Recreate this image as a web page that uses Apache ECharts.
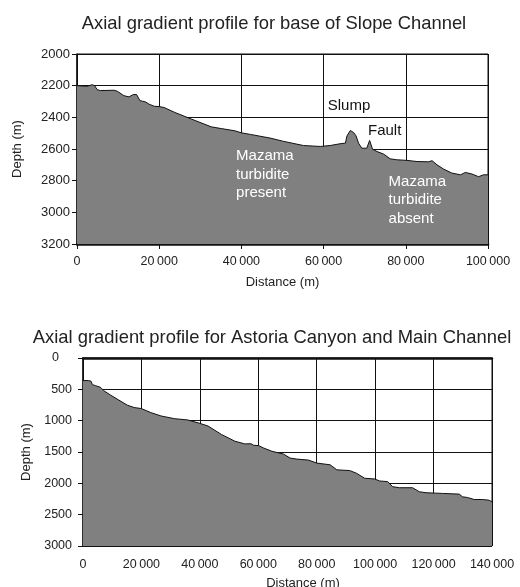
<!DOCTYPE html>
<html><head><meta charset="utf-8">
<script src="https://cdn.jsdelivr.net/npm/echarts@6/dist/echarts.min.js"></script>
<style>html,body{margin:0;padding:0;background:#fff}#c{width:520px;height:587px}</style>
</head><body><div id="c"></div>
<script>
// Chart 1: base of Slope Channel
var slopeDistance = [0,2450,3700,4300,4900,5700,9000,9800,11400,12650,13700,14100,14500,14900,15300,15900,16700,17550,18800,20000,21200,23700,27750,32650,35100,38400,40000,42200,47000,50300,55100,59200,61600,64000,65300,65700,66500,67300,67900,68500,69300,70500,71200,71600,71900,73000,74600,76200,77800,80300,82700,85500,86400,87600,89200,91200,93300,94500,96100,97700,98900,100000];
var slopeDepth = [2200,2204,2194,2200,2225,2231,2229,2235,2263,2271,2256,2246,2256,2244,2294,2298,2303,2317,2330,2332,2338,2368,2410,2460,2471,2485,2498,2508,2531,2552,2578,2584,2578,2567,2563,2517,2483,2496,2517,2563,2595,2595,2546,2538,2601,2616,2632,2662,2668,2672,2679,2681,2674,2700,2727,2752,2763,2748,2758,2775,2763,2763];
// Chart 2: Astoria Canyon and Main Channel
var astoriaDistance = [0,1950,2760,3200,4250,5980,7100,9400,11700,15200,17500,19800,20500,23200,26700,31300,35900,40000,42800,47400,52000,55400,57500,58400,60100,61800,64700,68600,70900,73200,77200,80000,84600,86900,91300,93600,96400,99800,101500,104300,106000,108300,112800,115100,117400,123100,128800,129900,131600,133900,136700,139000,140000];
var astoriaDepth = [360,360,371,425,441,468,521,591,656,753,790,806,817,871,925,968,989,1043,1086,1220,1328,1371,1368,1393,1398,1436,1489,1532,1597,1613,1629,1677,1704,1785,1796,1839,1919,1930,1962,1973,2054,2070,2070,2134,2150,2161,2172,2215,2226,2258,2258,2269,2296];

var titles = ['Axial gradient profile for base of Slope Channel','Axial gradient profile for Astoria Canyon and Main Channel'];
var annotations1 = [
  {name:'Slump', coord:[61000,2328], color:'#111', va:'middle', text:'Slump'},
  {name:'Fault', coord:[70800,2484], color:'#111', va:'middle', text:'Fault'},
  {name:'present', coord:[38700,2585], color:'#fff', va:'top', text:'Mazama\nturbidite\npresent'},
  {name:'absent', coord:[75800,2748], color:'#fff', va:'top', text:'Mazama\nturbidite\nabsent'}
];

function zip(a,b){return a.map(function(v,i){return [v,b[i]];});}
function fmtX(v){return String(v).replace(/\B(?=(\d{3})+(?!\d))/g,'\u2009');}
function fmtY(v){return String(v);}
function fmtY2(v){return v === 0 ? '{z|0}' : String(v);}
var FONT = '"Liberation Sans", Arial, sans-serif';
var TXT = '#222';

function xAxis(idx, max, gap, pad, margin){
  return {type:'value', gridIndex:idx, min:0, max:max, interval:20000,
    name:'Distance (m)', nameLocation:'middle', nameGap:gap,
    nameTextStyle:{fontFamily:FONT,fontSize:13,color:TXT,padding:pad},
    axisLine:{show:true,lineStyle:{color:'#111',width:2.5}},
    axisTick:{show:true,length:5,lineStyle:{color:'#111',width:1}},
    axisLabel:{fontFamily:FONT,fontSize:12.5,color:TXT,margin:margin,formatter:fmtX},
    splitLine:{show:true,lineStyle:{color:'#111',width:1}}};
}
function yAxis(idx, min, max, interval, gap, margin, fs, fmt){
  return {type:'value', gridIndex:idx, min:min, max:max, interval:interval, inverse:true,
    name:'Depth (m)', nameLocation:'middle', nameGap:gap, nameRotate:90,
    nameTextStyle:{fontFamily:FONT,fontSize:13,color:TXT},
    axisLine:{show:true,lineStyle:{color:'#111',width:1.5}},
    axisTick:{show:true,length:5,lineStyle:{color:'#111',width:1}},
    axisLabel:{fontFamily:FONT,fontSize:fs,color:TXT,margin:margin,formatter:fmt,
      rich:{z:{fontFamily:FONT,fontSize:fs,color:TXT,padding:[0,13,0,0]}}},
    splitLine:{show:true,lineStyle:{color:'#111',width:1}}};
}

var chart = echarts.init(document.getElementById('c'), null, {renderer:'canvas'});
chart.setOption({
  backgroundColor:'#fff',
  animation:false,
  title:[
    {text:titles[0], left:269, top:10, textAlign:'center', textStyle:{fontFamily:FONT,fontSize:18.4,fontWeight:'normal',color:TXT}},
    {text:titles[1], left:267, top:324, textAlign:'center', textStyle:{fontFamily:FONT,fontSize:18.4,fontWeight:'normal',color:TXT}}
  ],
  grid:[
    {left:77, top:54, width:411, height:190, show:true, borderColor:'#111', borderWidth:1, containLabel:false, outerBoundsMode:'none'},
    {left:83, top:358, width:409, height:188, show:true, borderColor:'#111', borderWidth:1, containLabel:false, outerBoundsMode:'none'}
  ],
  xAxis:[xAxis(0,100000,32,[0,0,0,0],11), xAxis(1,140000,31,[0,0,0,31],12)],
  yAxis:[yAxis(0,2000,3200,200,53,7,13,fmtY), yAxis(1,0,3000,500,50,11,12.5,fmtY2)],
  series:[
    {type:'line', xAxisIndex:0, yAxisIndex:0, data:zip(slopeDistance,slopeDepth), symbol:'none', silent:true,
      lineStyle:{color:'#111',width:1}, areaStyle:{color:'#808080',opacity:1,origin:'end'},
      markPoint:{symbol:'circle', symbolSize:0, silent:true,
        data:annotations1.map(function(a){return {name:a.name, coord:a.coord,
          label:{show:true, position:'inside', formatter:a.text, align:'left', verticalAlign:a.va,
            color:a.color, fontFamily:FONT, fontSize:15, lineHeight:18.5}};})}},
    {type:'line', xAxisIndex:1, yAxisIndex:1, data:zip(astoriaDistance,astoriaDepth), symbol:'none', silent:true,
      lineStyle:{color:'#111',width:1}, areaStyle:{color:'#808080',opacity:1,origin:'end'}}
  ]
});
</script></body></html>
